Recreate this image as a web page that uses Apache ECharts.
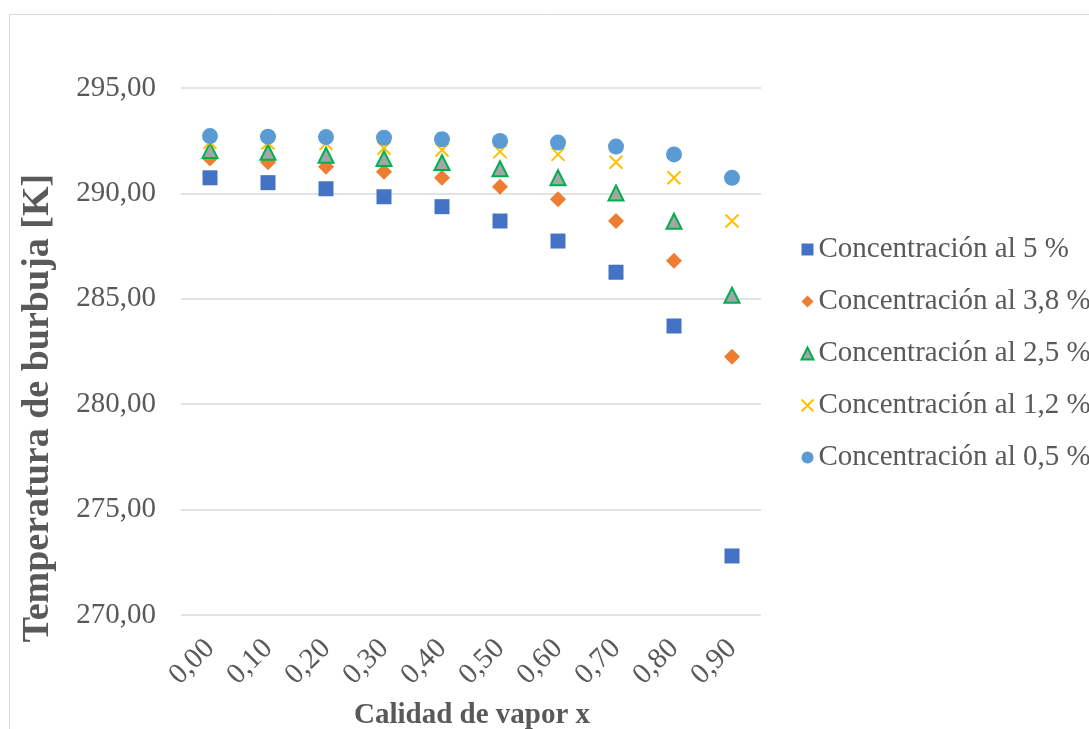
<!DOCTYPE html>
<html>
<head>
<meta charset="utf-8">
<script src="https://cdn.jsdelivr.net/npm/echarts@6/dist/echarts.min.js"></script>
<style>
html,body{margin:0;padding:0;background:#fff;}
#c{width:1089px;height:729px;}
</style>
</head>
<body>
<div id="c"></div>
<script>
const categories = ['0,00','0,10','0,20','0,30','0,40','0,50','0,60','0,70','0,80','0,90'];
const seriesNames = ['Concentración al 5 %','Concentración al 3,8 %','Concentración al 2,5 %','Concentración al 1,2 %','Concentración al 0,5 %'];
const conc5  = [290.74, 290.51, 290.22, 289.84, 289.37, 288.69, 287.74, 286.26, 283.71, 272.80];
const conc38 = [291.65, 291.48, 291.27, 291.03, 290.74, 290.32, 289.72, 288.69, 286.81, 282.25];
const conc25 = [292.04, 291.95, 291.81, 291.65, 291.46, 291.17, 290.74, 290.02, 288.68, 285.17];
const conc12 = [292.42, 292.39, 292.37, 292.14, 292.06, 291.98, 291.85, 291.48, 290.74, 288.69];
const conc05 = [292.72, 292.69, 292.67, 292.64, 292.57, 292.49, 292.41, 292.22, 291.85, 290.74];
const yTicks = {min: 270, max: 295, interval: 5};

const FONT = 'Liberation Serif';
const TXT = '#595959';

const chart = echarts.init(document.getElementById('c'));
const mk = (name, data, symbol, size, style) => ({
  name, type: 'scatter', data, symbol, symbolSize: size,
  itemStyle: Object.assign({opacity: 1}, style), emphasis: {disabled: true}, animation: false
});
chart.setOption({
  animation: false,
  grid: {left: 181, right: 328, top: 88, bottom: 114, containLabel: false},
  graphic: [
    {type: 'rect', shape: {x: 9.5, y: 14.5, width: 1100, height: 730},
     style: {fill: 'none', stroke: '#D9D9D9', lineWidth: 1}, silent: true, z: -10},
    {type: 'text', x: 38, y: 408, rotation: Math.PI / 2,
     style: {text: 'Temperatura de burbuja [K]', font: 'bold 38px "Liberation Serif"', fill: TXT,
             align: 'center', verticalAlign: 'middle'}},
    {type: 'text', x: 472, y: 716,
     style: {text: 'Calidad de vapor x', font: 'bold 29px "Liberation Serif"', fill: TXT,
             align: 'center', verticalAlign: 'middle'}}
  ],
  legend: {
    orient: 'vertical', left: 799, top: 235, itemGap: 23, padding: 0,
    itemWidth: 12, itemHeight: 12,
    textStyle: {fontFamily: FONT, fontSize: 29, color: TXT},
    data: seriesNames
  },
  xAxis: {
    type: 'category', data: categories, boundaryGap: true,
    axisLine: {show: false}, axisTick: {show: false},
    axisLabel: {rotate: 45, margin: 29, fontFamily: FONT, fontSize: 29, color: TXT, interval: 0}
  },
  yAxis: {
    type: 'value', min: yTicks.min, max: yTicks.max, interval: yTicks.interval,
    axisLine: {show: false}, axisTick: {show: false},
    splitLine: {lineStyle: {color: '#D9D9D9', width: 1.5}},
    axisLabel: {margin: 25, fontFamily: FONT, fontSize: 29, color: TXT,
                formatter: v => v.toFixed(2).replace('.', ',')}
  },
  series: [
    mk(seriesNames[0], conc5, 'rect', 15, {color: '#4472C4'}),
    mk(seriesNames[1], conc38, 'diamond', 16, {color: '#ED7D31'}),
    mk(seriesNames[2], conc25, 'triangle', 15, {color: '#A5A5A5', borderColor: '#00B050', borderWidth: 2}),
    mk(seriesNames[3], conc12, 'path://M0,0L10,10M10,0L0,10', 13, {color: 'none', borderColor: '#FFC000', borderWidth: 2}),
    mk(seriesNames[4], conc05, 'circle', 16, {color: '#5B9BD5'})
  ]
});
</script>
</body>
</html>
